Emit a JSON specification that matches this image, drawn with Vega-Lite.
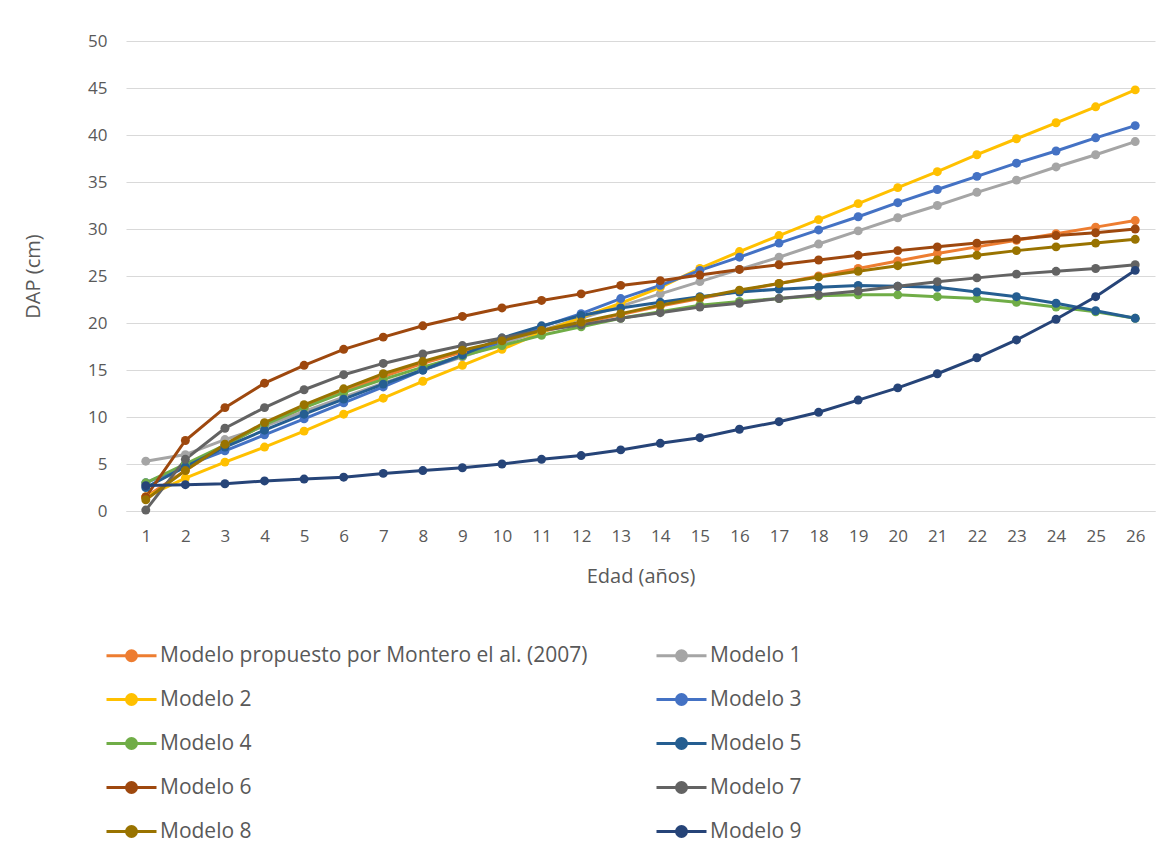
{
  "$schema": "https://vega.github.io/schema/vega-lite/v6.json",
  "autosize": {"type": "none"},
  "width": 1029,
  "height": 470,
  "padding": {"left": 126, "top": 41, "right": 17, "bottom": 349},
  "background": "white",
  "config": {
    "view": {"stroke": null},
    "font": "Open Sans",
    "axis": {"labelColor": "#595959", "titleColor": "#595959", "labelFont": "Open Sans", "titleFont": "Open Sans", "titleFontWeight": "normal"},
    "legend": {"labelFont": "Open Sans", "labelColor": "#595959"}
  },
  "data": {
    "values": [
      {"edad": 1, "Montero": 1.5, "Modelo 1": 5.3, "Modelo 2": 1.5, "Modelo 3": 3.0, "Modelo 4": 3.0, "Modelo 5": 2.5, "Modelo 6": 1.5, "Modelo 7": 0.1, "Modelo 8": 1.2, "Modelo 9": 2.7},
      {"edad": 2, "Montero": 4.3, "Modelo 1": 6.0, "Modelo 2": 3.5, "Modelo 3": 4.8, "Modelo 4": 5.0, "Modelo 5": 4.7, "Modelo 6": 7.5, "Modelo 7": 5.5, "Modelo 8": 4.3, "Modelo 9": 2.8},
      {"edad": 3, "Montero": 7.0, "Modelo 1": 7.6, "Modelo 2": 5.2, "Modelo 3": 6.4, "Modelo 4": 7.0, "Modelo 5": 6.8, "Modelo 6": 11.0, "Modelo 7": 8.8, "Modelo 8": 7.1, "Modelo 9": 2.9},
      {"edad": 4, "Montero": 9.2, "Modelo 1": 9.0, "Modelo 2": 6.8, "Modelo 3": 8.1, "Modelo 4": 9.2, "Modelo 5": 8.6, "Modelo 6": 13.6, "Modelo 7": 11.0, "Modelo 8": 9.4, "Modelo 9": 3.2},
      {"edad": 5, "Montero": 11.0, "Modelo 1": 10.6, "Modelo 2": 8.5, "Modelo 3": 9.8, "Modelo 4": 11.0, "Modelo 5": 10.3, "Modelo 6": 15.5, "Modelo 7": 12.9, "Modelo 8": 11.3, "Modelo 9": 3.4},
      {"edad": 6, "Montero": 12.8, "Modelo 1": 12.1, "Modelo 2": 10.3, "Modelo 3": 11.5, "Modelo 4": 12.6, "Modelo 5": 11.9, "Modelo 6": 17.2, "Modelo 7": 14.5, "Modelo 8": 13.0, "Modelo 9": 3.6},
      {"edad": 7, "Montero": 14.3, "Modelo 1": 13.6, "Modelo 2": 12.0, "Modelo 3": 13.2, "Modelo 4": 14.0, "Modelo 5": 13.5, "Modelo 6": 18.5, "Modelo 7": 15.7, "Modelo 8": 14.6, "Modelo 9": 4.0},
      {"edad": 8, "Montero": 15.7, "Modelo 1": 15.0, "Modelo 2": 13.8, "Modelo 3": 15.0, "Modelo 4": 15.3, "Modelo 5": 15.0, "Modelo 6": 19.7, "Modelo 7": 16.7, "Modelo 8": 15.9, "Modelo 9": 4.3},
      {"edad": 9, "Montero": 16.9, "Modelo 1": 16.4, "Modelo 2": 15.5, "Modelo 3": 16.5, "Modelo 4": 16.5, "Modelo 5": 16.6, "Modelo 6": 20.7, "Modelo 7": 17.6, "Modelo 8": 17.1, "Modelo 9": 4.6},
      {"edad": 10, "Montero": 18.0, "Modelo 1": 17.8, "Modelo 2": 17.2, "Modelo 3": 18.0, "Modelo 4": 17.6, "Modelo 5": 18.4, "Modelo 6": 21.6, "Modelo 7": 18.4, "Modelo 8": 18.1, "Modelo 9": 5.0},
      {"edad": 11, "Montero": 19.1, "Modelo 1": 19.2, "Modelo 2": 19.0, "Modelo 3": 19.6, "Modelo 4": 18.7, "Modelo 5": 19.7, "Modelo 6": 22.4, "Modelo 7": 19.2, "Modelo 8": 19.2, "Modelo 9": 5.5},
      {"edad": 12, "Montero": 20.0, "Modelo 1": 20.5, "Modelo 2": 20.6, "Modelo 3": 21.0, "Modelo 4": 19.6, "Modelo 5": 20.8, "Modelo 6": 23.1, "Modelo 7": 19.8, "Modelo 8": 20.1, "Modelo 9": 5.9},
      {"edad": 13, "Montero": 20.9, "Modelo 1": 21.8, "Modelo 2": 22.1, "Modelo 3": 22.6, "Modelo 4": 20.5, "Modelo 5": 21.6, "Modelo 6": 24.0, "Modelo 7": 20.5, "Modelo 8": 21.0, "Modelo 9": 6.5},
      {"edad": 14, "Montero": 21.8, "Modelo 1": 23.1, "Modelo 2": 23.8, "Modelo 3": 24.0, "Modelo 4": 21.2, "Modelo 5": 22.2, "Modelo 6": 24.5, "Modelo 7": 21.1, "Modelo 8": 21.9, "Modelo 9": 7.2},
      {"edad": 15, "Montero": 22.6, "Modelo 1": 24.4, "Modelo 2": 25.8, "Modelo 3": 25.6, "Modelo 4": 21.9, "Modelo 5": 22.8, "Modelo 6": 25.1, "Modelo 7": 21.7, "Modelo 8": 22.7, "Modelo 9": 7.8},
      {"edad": 16, "Montero": 23.4, "Modelo 1": 25.7, "Modelo 2": 27.6, "Modelo 3": 27.0, "Modelo 4": 22.3, "Modelo 5": 23.3, "Modelo 6": 25.7, "Modelo 7": 22.1, "Modelo 8": 23.5, "Modelo 9": 8.7},
      {"edad": 17, "Montero": 24.2, "Modelo 1": 27.0, "Modelo 2": 29.3, "Modelo 3": 28.5, "Modelo 4": 22.6, "Modelo 5": 23.6, "Modelo 6": 26.2, "Modelo 7": 22.6, "Modelo 8": 24.2, "Modelo 9": 9.5},
      {"edad": 18, "Montero": 25.0, "Modelo 1": 28.4, "Modelo 2": 31.0, "Modelo 3": 29.9, "Modelo 4": 22.9, "Modelo 5": 23.8, "Modelo 6": 26.7, "Modelo 7": 23.0, "Modelo 8": 24.9, "Modelo 9": 10.5},
      {"edad": 19, "Montero": 25.8, "Modelo 1": 29.8, "Modelo 2": 32.7, "Modelo 3": 31.3, "Modelo 4": 23.0, "Modelo 5": 24.0, "Modelo 6": 27.2, "Modelo 7": 23.4, "Modelo 8": 25.5, "Modelo 9": 11.8},
      {"edad": 20, "Montero": 26.6, "Modelo 1": 31.2, "Modelo 2": 34.4, "Modelo 3": 32.8, "Modelo 4": 23.0, "Modelo 5": 23.9, "Modelo 6": 27.7, "Modelo 7": 23.9, "Modelo 8": 26.1, "Modelo 9": 13.1},
      {"edad": 21, "Montero": 27.4, "Modelo 1": 32.5, "Modelo 2": 36.1, "Modelo 3": 34.2, "Modelo 4": 22.8, "Modelo 5": 23.8, "Modelo 6": 28.1, "Modelo 7": 24.4, "Modelo 8": 26.7, "Modelo 9": 14.6},
      {"edad": 22, "Montero": 28.1, "Modelo 1": 33.9, "Modelo 2": 37.9, "Modelo 3": 35.6, "Modelo 4": 22.6, "Modelo 5": 23.3, "Modelo 6": 28.5, "Modelo 7": 24.8, "Modelo 8": 27.2, "Modelo 9": 16.3},
      {"edad": 23, "Montero": 28.8, "Modelo 1": 35.2, "Modelo 2": 39.6, "Modelo 3": 37.0, "Modelo 4": 22.2, "Modelo 5": 22.8, "Modelo 6": 28.9, "Modelo 7": 25.2, "Modelo 8": 27.7, "Modelo 9": 18.2},
      {"edad": 24, "Montero": 29.5, "Modelo 1": 36.6, "Modelo 2": 41.3, "Modelo 3": 38.3, "Modelo 4": 21.7, "Modelo 5": 22.1, "Modelo 6": 29.3, "Modelo 7": 25.5, "Modelo 8": 28.1, "Modelo 9": 20.4},
      {"edad": 25, "Montero": 30.2, "Modelo 1": 37.9, "Modelo 2": 43.0, "Modelo 3": 39.7, "Modelo 4": 21.2, "Modelo 5": 21.3, "Modelo 6": 29.6, "Modelo 7": 25.8, "Modelo 8": 28.5, "Modelo 9": 22.8},
      {"edad": 26, "Montero": 30.9, "Modelo 1": 39.3, "Modelo 2": 44.8, "Modelo 3": 41.0, "Modelo 4": 20.5, "Modelo 5": 20.5, "Modelo 6": 30.0, "Modelo 7": 26.2, "Modelo 8": 28.9, "Modelo 9": 25.6}
    ]
  },
  "transform": [
    {"fold": ["Montero", "Modelo 1", "Modelo 2", "Modelo 3", "Modelo 4", "Modelo 5", "Modelo 6", "Modelo 7", "Modelo 8", "Modelo 9"], "as": ["modelo", "dap"]}
  ],
  "encoding": {
    "x": {
      "field": "edad", "type": "ordinal",
      "scale": {"type": "point", "padding": 0.5},
      "axis": {"title": "Edad (años)", "labelAngle": 0, "labelFontSize": 17, "titleFontSize": 20, "ticks": false, "domainColor": "#D9D9D9", "labelPadding": 17, "titlePadding": 22, "grid": false}
    },
    "y": {
      "field": "dap", "type": "quantitative",
      "scale": {"domain": [0, 50]},
      "axis": {"title": "DAP (cm)", "values": [0,5,10,15,20,25,30,35,40,45,50], "labelFontSize": 17, "titleFontSize": 20, "ticks": false, "domain": false, "gridColor": "#D9D9D9", "labelPadding": 19, "titlePadding": 44}
    },
    "color": {
      "field": "modelo", "type": "nominal",
      "scale": {
        "domain": ["Montero", "Modelo 1", "Modelo 2", "Modelo 3", "Modelo 4", "Modelo 5", "Modelo 6", "Modelo 7", "Modelo 8", "Modelo 9"],
        "range": ["#ED7D31", "#A5A5A5", "#FFC000", "#4472C4", "#70AD47", "#255E91", "#9E480E", "#636363", "#997300", "#264478"]
      },
      "legend": {
        "title": null, "orient": "none", "direction": "horizontal", "legendX": -21, "legendY": 588, "columns": 2, "columnPadding": 62, "rowPadding": 6,
        "labelFontSize": 21, "labelOffset": 2, "labelLimit": 600,
        "labelExpr": "datum.label == 'Montero' ? 'Modelo propuesto por Montero el al. (2007)' : datum.label",
        "symbolType": "M-1,0H1M-0.2,0A0.2,0.2,0,1,1,0.2,0A0.2,0.2,0,1,1,-0.2,0Z",
        "symbolSize": 2500, "symbolStrokeWidth": 3, "symbolOpacity": 1
      }
    }
  },
  "layer": [
    {"mark": {"type": "line", "strokeWidth": 3}},
    {"mark": {"type": "circle", "size": 80, "opacity": 1}}
  ]
}
